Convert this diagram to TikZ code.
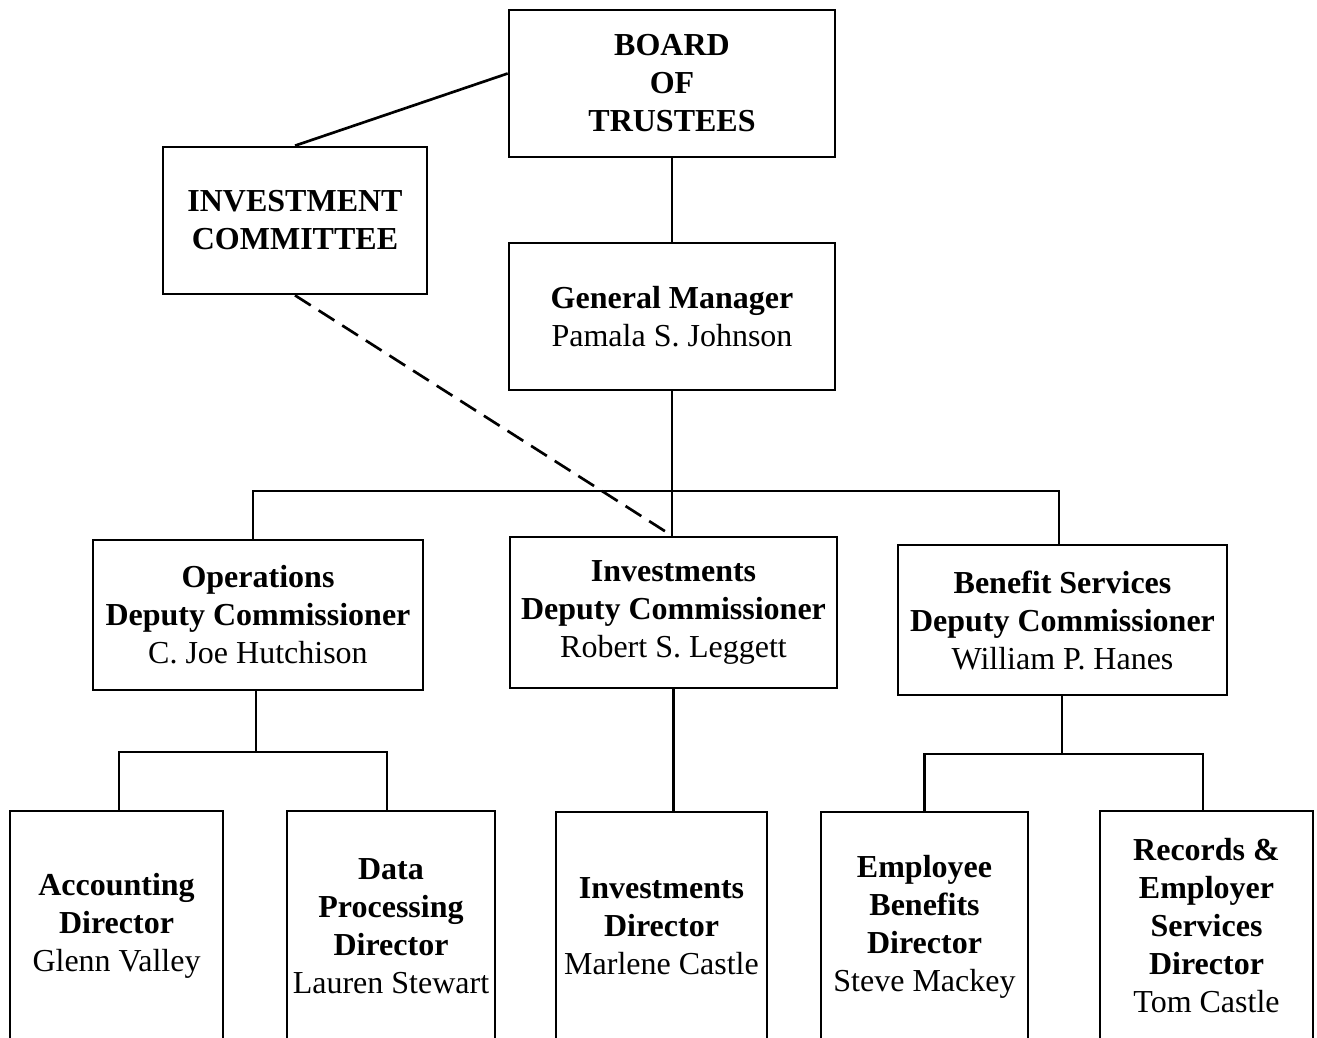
\documentclass[tikz,border=0pt]{standalone}
\usepackage{fontspec}
\setmainfont{Liberation Serif}
\begin{document}
\begin{tikzpicture}[x=0.75pt,y=-0.75pt,
  box/.style={draw, line width=2pt, inner sep=0pt, align=center, font=\fontsize{24}{28.5}\selectfont},
  conn/.style={line width=2pt},
  dconn/.style={line width=2pt, dash pattern=on 14pt off 7pt}]
\useasboundingbox (0,0) rectangle (1317,1038);
\clip (0,0) rectangle (1317,1038);
% top level
\node[box, minimum width=244.5pt, minimum height=110.25pt] (board) at (672,83.5)
  {\textbf{BOARD}\\\textbf{OF}\\\textbf{TRUSTEES}};
\node[box, minimum width=198pt, minimum height=110.25pt] (ic) at (295,220.5)
  {\textbf{INVESTMENT}\\\textbf{COMMITTEE}};
\node[box, minimum width=244.5pt, minimum height=110.25pt] (gm) at (672,316.5)
  {\textbf{General Manager}\\Pamala S. Johnson};
% deputy commissioners
\node[box, minimum width=247.5pt, minimum height=112.5pt] (ops) at (258,615)
  {\textbf{Operations}\\\textbf{Deputy Commissioner}\\C. Joe Hutchison};
\node[box, minimum width=245.25pt, minimum height=113.25pt] (invdc) at (673.5,612.5)
  {\textbf{Investments}\\\textbf{Deputy Commissioner}\\Robert S. Leggett};
\node[box, minimum width=246.75pt, minimum height=112.5pt] (ben) at (1062.5,620)
  {\textbf{Benefit Services}\\\textbf{Deputy Commissioner}\\William P. Hanes};
% directors
\node[box, minimum width=159.75pt, minimum height=172.5pt] (acct) at (116.5,926)
  {\textbf{Accounting}\\\textbf{Director}\\Glenn Valley};
\node[box, minimum width=156pt, minimum height=172.5pt] (data) at (391,926)
  {\textbf{Data}\\\textbf{Processing}\\\textbf{Director}\\Lauren Stewart};
\node[box, minimum width=158.25pt, minimum height=171.75pt] (invdir) at (661.5,926.5)
  {\textbf{Investments}\\\textbf{Director}\\Marlene Castle};
\node[box, minimum width=155.25pt, minimum height=171.75pt] (emp) at (924.5,926.5)
  {\textbf{Employee}\\\textbf{Benefits}\\\textbf{Director}\\Steve Mackey};
\node[box, minimum width=159.75pt, minimum height=172.5pt] (rec) at (1206.5,926)
  {\textbf{Records \&}\\\textbf{Employer}\\\textbf{Services}\\\textbf{Director}\\Tom Castle};
% hubs
\coordinate (hub) at (672,491);
\coordinate (opshub) at (256,752);
\coordinate (benhub) at (1062,754);
% connectors
\draw[conn] ([yshift=7.5pt]board.west) -- (ic.north);
\draw[conn] (board.south) -- (gm.south |- board.south) -- (gm.north);
\draw[conn] (gm.south) -- (hub) -- (hub |- invdc.north);
\draw[conn] (ops.north -| 253,0) |- (hub) -| (ben.north -| 1059,0);
\draw[dconn] (ic.south) -- (hub |- invdc.north);
\draw[conn] (opshub |- ops.south) -- (opshub);
\draw[conn] (acct.north -| 119,0) |- (opshub) -| (data.north -| 387,0);
\draw[conn] (invdc.south) -- (invdc.south |- invdir.north);
\draw[conn] (benhub |- ben.south) -- (benhub);
\draw[conn] (emp.north) |- (benhub) -| (rec.north -| 1203,0);
\end{tikzpicture}
\end{document}
